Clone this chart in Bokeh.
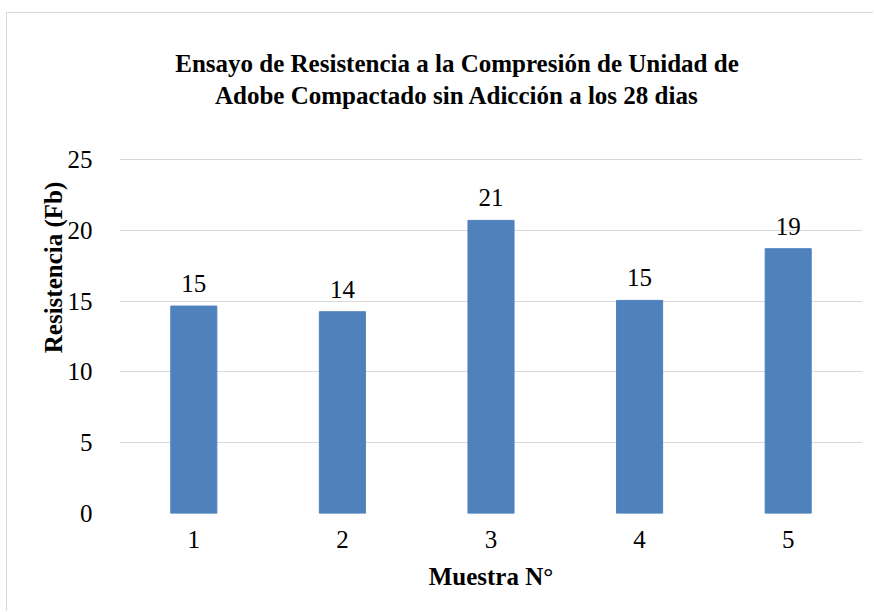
from bokeh.plotting import figure
from bokeh.models import ColumnDataSource, LabelSet, Label, FixedTicker, Range1d
from bokeh.core.properties import value
from bokeh.embed import file_html
from bokeh.resources import INLINE

# Compression test results for compacted adobe units (28 days)
muestras = ["1", "2", "3", "4", "5"]
resistencia = [14.65, 14.25, 20.7, 15.05, 18.7]
y_ticks = [0, 5, 10, 15, 20, 25]

title_lines = [
    "Ensayo de Resistencia a la Compresión de Unidad de",
    "Adobe Compactado sin Adicción a los 28 dias",
]

SERIF = "Liberation Serif"
FONT_SIZE = "25px"
BAR_COLOR = "#4f81bd"
GRID_COLOR = "#d9d9d9"

# layout (canvas pixels)
W, H = 867, 599
LEFT, RIGHT, TOP, BOTTOM = 112, 12, 8, 99
AXIS_TOP_PX = 146            # where the value 25 sits
Y_MAX = 25
px_per_unit = (H - BOTTOM - AXIS_TOP_PX) / Y_MAX
y_end = Y_MAX + (AXIS_TOP_PX - TOP) / px_per_unit
title_baselines_px = [50, 82]
title_shift_px = -34

source = ColumnDataSource(dict(
    x=muestras,
    y=resistencia,
    label=[f"{v:.0f}" for v in resistencia],
))

p = figure(
    x_range=muestras,
    y_range=Range1d(0, y_end),
    width=W,
    height=H,
    output_backend="svg",
    toolbar_location=None,
    min_border_left=LEFT,
    min_border_right=RIGHT,
    min_border_top=TOP,
    min_border_bottom=BOTTOM,
)
p.styles = {
    "border-top": f"1px solid {GRID_COLOR}",
    "border-left": f"1px solid {GRID_COLOR}",
    "margin-left": "6px",
    "margin-top": "12px",
}
p.outline_line_color = None
p.background_fill_color = "white"
p.border_fill_color = "white"
p.x_range.range_padding = 0

p.vbar(x="x", top="y", width=0.31, source=source,
       fill_color=BAR_COLOR, line_color=BAR_COLOR)

labels = LabelSet(x="x", y="y", text="label", source=source,
                  text_align="center", text_baseline="alphabetic",
                  y_offset=14, text_font=value(SERIF),
                  text_font_size=FONT_SIZE, text_color="#000000")
p.add_layout(labels)

# grid
p.xgrid.grid_line_color = None
p.ygrid.grid_line_color = GRID_COLOR
p.ygrid.grid_line_width = 1
p.ygrid.ticker = FixedTicker(ticks=y_ticks)

# y axis
p.yaxis.ticker = FixedTicker(ticks=y_ticks)
p.yaxis.axis_line_color = None
p.yaxis.major_tick_line_color = None
p.yaxis.minor_tick_line_color = None
p.yaxis.major_label_standoff = 21
p.yaxis.major_label_text_font = SERIF
p.yaxis.major_label_text_font_size = FONT_SIZE
p.yaxis.major_label_text_color = "#000000"
p.yaxis.axis_label = "Resistencia (Fb)"
p.yaxis.axis_label_text_font = SERIF
p.yaxis.axis_label_text_font_size = FONT_SIZE
p.yaxis.axis_label_text_font_style = "bold"
p.yaxis.axis_label_text_color = "#000000"
p.yaxis.axis_label_standoff = -2

# x axis
p.xaxis.axis_line_color = None
p.xaxis.major_tick_line_color = None
p.xaxis.minor_tick_line_color = None
p.xaxis.major_label_standoff = 11
p.xaxis.major_label_text_font = SERIF
p.xaxis.major_label_text_font_size = FONT_SIZE
p.xaxis.major_label_text_color = "#000000"
p.xaxis.axis_label = "Muestra N°"
p.xaxis.axis_label_text_font = SERIF
p.xaxis.axis_label_text_font_size = FONT_SIZE
p.xaxis.axis_label_text_font_style = "bold"
p.xaxis.axis_label_text_color = "#000000"
p.xaxis.axis_label_standoff = 12

# two-line chart title, centred slightly left of the plotting area
for line, base_px in zip(title_lines, title_baselines_px):
    p.add_layout(Label(
        x=len(muestras) / 2, y=Y_MAX + (AXIS_TOP_PX - base_px) / px_per_unit,
        x_offset=title_shift_px,
        text=line, text_align="center", text_baseline="alphabetic",
        text_font=SERIF, text_font_size=FONT_SIZE, text_font_style="bold",
        text_color="#000000",
    ))

open("out.html", "w").write(file_html(p, INLINE))
